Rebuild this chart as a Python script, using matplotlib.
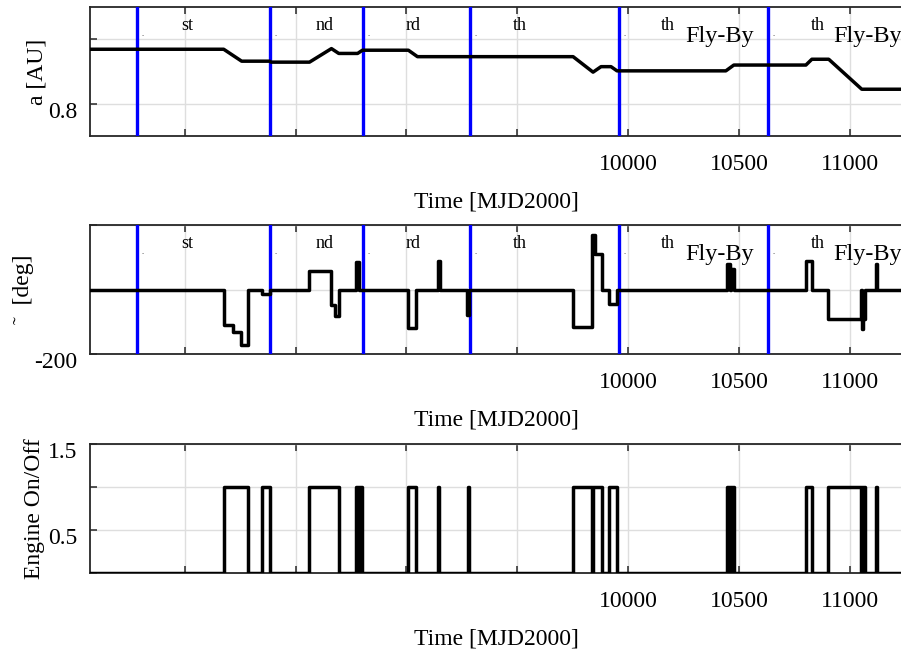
import matplotlib
matplotlib.use("Agg")
import matplotlib.pyplot as plt
import matplotlib.transforms as mtransforms

plt.rcParams['font.family'] = ['Liberation Serif', 'DejaVu Serif']
plt.rcParams['mathtext.fontset'] = 'stix'

# time axis [MJD2000]
x_lim = (7573, 11240)
x_ticks = [8000, 8500, 9000, 9500, 10000, 10500, 11000]
x_labels = ['', '', '', '', '10000', '10500', '11000']

# fly-by epochs (blue lines)
flyby_t = [7785, 8385, 8805, 9287, 9959, 10631]

# fly-by annotation texts
sup_t = [8011, 8629, 9030, 9513, 10180, 10857]
sup_txt = ['st', 'nd', 'rd', 'th', 'th', 'th']
flyby_lbl_t = [10257, 10925]

# semi-major axis
a_t = [7573, 8176, 8257, 8383, 8390, 8563, 8662, 8695, 8780, 8802, 9009, 9050,
       9752, 9842, 9878, 9923, 9950, 10441, 10477, 10802, 10829, 10905, 11054, 11240]
a_v = [0.969, 0.969, 0.932, 0.932, 0.929, 0.929, 0.971, 0.956, 0.956, 0.966, 0.966, 0.946,
       0.946, 0.898, 0.915, 0.915, 0.902, 0.902, 0.920, 0.920, 0.938, 0.938, 0.845, 0.845]

# thrust angle [deg] (step)
ang_t = [7573, 8176, 8216, 8252, 8284, 8351, 8383, 8563, 8658, 8680, 8695, 8775, 8785,
         9009, 9045, 9144, 9150, 9275, 9281, 9752, 9838, 9851, 9883, 9914, 9950,
         10446, 10458, 10462, 10477, 10802, 10829, 10901, 11050, 11055, 11060, 11068,
         11117, 11123, 11240]
ang_v = [0, -109, -133, -172, 0, -13, 0, 58, -49, -83, 0, 84, 0,
         -119, 0, 87, 0, -80, 0, -116, 168, 110, 0, -44, 0,
         79, 0, 65, 0, 87, 0, -90, 0, -123, -90, 0,
         79, 0, 0]

# engine on/off (step)
eng_t = [7573, 8176, 8284, 8351, 8383, 8563, 8695, 8775, 8780, 8785, 8790, 8795, 8802,
         9009, 9045, 9144, 9149, 9279, 9284, 9752, 9838, 9844, 9883, 9914, 9950,
         10446, 10455, 10460, 10468, 10472, 10477, 10802, 10829, 10901, 11050, 11053,
         11058, 11062, 11068, 11117, 11122, 11240]
eng_v = [0, 1, 0, 1, 0, 1, 0, 1, 0, 1, 0, 1, 0,
         1, 0, 1, 0, 1, 0, 1, 0, 1, 0, 1, 0,
         1, 0, 1, 0, 1, 0, 1, 0, 1, 0, 1,
         0, 1, 0, 1, 0, 0]

W, H = 901, 651
fig = plt.figure(figsize=(W / 100, H / 100), dpi=100)

def px_axes(left, top, right, bottom):
    return fig.add_axes([left / W, 1 - bottom / H, (right - left) / W, (bottom - top) / H])

ax1 = px_axes(90, 7, 903, 136)
ax2 = px_axes(90, 225, 903, 354)
ax3 = px_axes(90, 444, 903, 573)

spine_col = '#262626'
grid_col = '#dedede'
ylab_shift = mtransforms.ScaledTranslation(0, -0.065, fig.dpi_scale_trans)

def style(ax, yticks, ylabels, ylab, ylab_x):
    ax.set_xticks(x_ticks)
    ax.set_xticklabels(x_labels)
    ax.set_xlim(*x_lim)
    ax.set_yticks(yticks)
    ax.set_yticklabels(ylabels)
    ax.grid(True, color=grid_col, linewidth=1.0)
    ax.set_axisbelow(True)
    for s in ['left', 'top', 'bottom']:
        ax.spines[s].set_color(spine_col)
        ax.spines[s].set_linewidth(1.3)
    ax.spines['right'].set_visible(False)
    ax.tick_params(axis='x', direction='in', top=True, length=5, width=1.1,
                   color=spine_col, labelsize=17, pad=13)
    ax.tick_params(axis='y', direction='in', length=5, width=1.1,
                   color=spine_col, labelsize=17, pad=9)
    for lab in ax.get_yticklabels():
        lab.set_transform(lab.get_transform() + ylab_shift)
    ax.set_xlabel('Time [MJD2000]', fontsize=17)
    ax.xaxis.set_label_coords(0.5, -0.43)
    ax.set_ylabel(ylab, fontsize=17)
    ax.yaxis.set_label_coords(ylab_x, 0.5)

def flyby_marks(ax):
    for t in flyby_t:
        ax.axvline(t, color='#0000ff', linewidth=2.4, zorder=3)
        ax.annotate('.', xy=(t, 0.76), xycoords=('data', 'axes fraction'),
                    xytext=(3, 0), textcoords='offset points', fontsize=6,
                    ha='left', va='bottom', color='#333333')
    for t, s in zip(sup_t, sup_txt):
        ax.text(t, 0.86, s, transform=ax.get_xaxis_transform(), fontsize=13,
                ha='center', va='center')
    for t in flyby_lbl_t:
        ax.text(t, 0.73, 'Fly-By', transform=ax.get_xaxis_transform(), fontsize=17.5,
                ha='left', va='baseline')

# semi-major axis
ax1.plot(a_t, a_v, color='black', linewidth=2.5, zorder=4)
ax1.set_ylim(0.7, 1.1)
flyby_marks(ax1)
style(ax1, [0.8, 1.0], ['0.8', ''], 'a [AU]', -0.052)

# angle
ax2.plot(ang_t, ang_v, color='black', linewidth=2.5, drawstyle='steps-post', zorder=4)
ax2.set_ylim(-200, 200)
flyby_marks(ax2)
style(ax2, [-200, 0, 200], ['-200', '', ''], '\u02dc  [deg]', -0.069)

# engine
ax3.plot(eng_t, eng_v, color='black', linewidth=2.5, drawstyle='steps-post', zorder=4)
ax3.set_ylim(0, 1.5)
style(ax3, [0, 0.5, 1.0, 1.5], ['', '0.5', '', '1.5'], 'Engine On/Off', -0.055)

fig.savefig('out.png', dpi=100)
